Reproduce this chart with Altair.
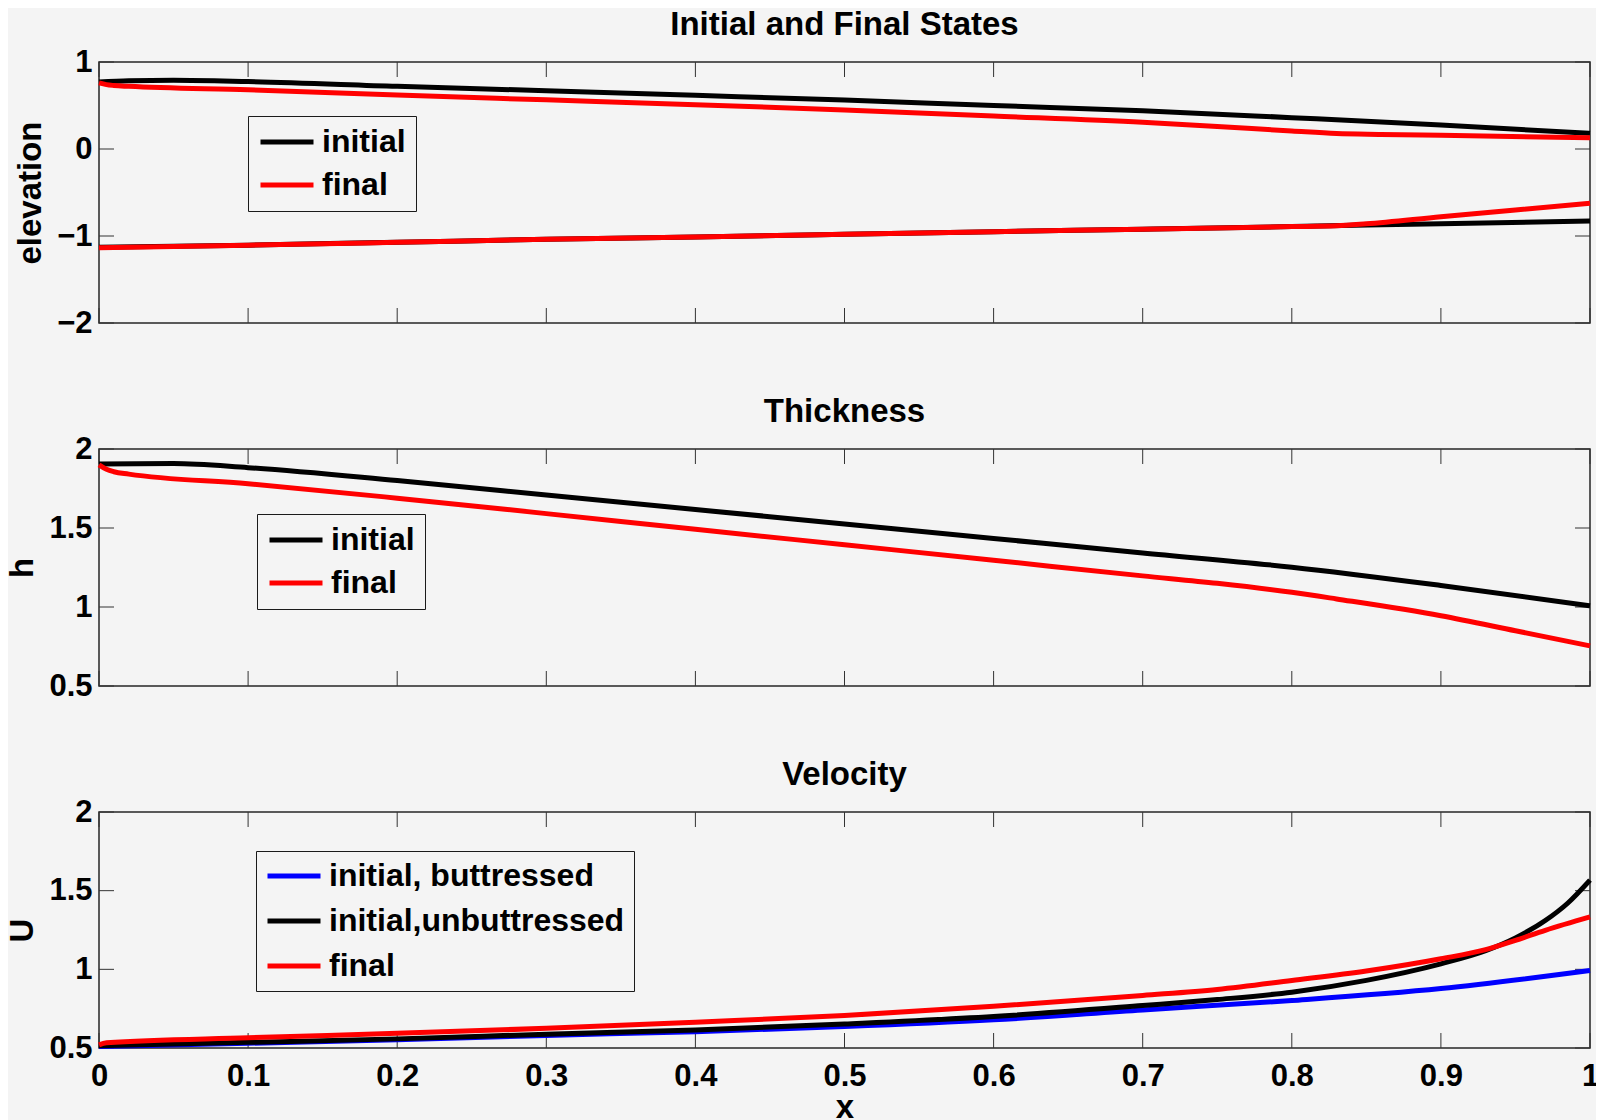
import altair as alt
import pandas as pd

FONT = "Liberation Sans"
BG = "#f4f4f4"

# ---------------- data ----------------
# Panel 1: elevation (surface and base, initial and final)
surf_init_x = [0.0, 0.02, 0.05, 0.1, 0.2, 0.3, 0.4, 0.5, 0.6, 0.7, 0.8, 0.9, 1.0]
surf_init_y = [0.77, 0.785, 0.79, 0.775, 0.72, 0.67, 0.617, 0.563, 0.50, 0.44, 0.36, 0.276, 0.18]
surf_final_x = [0.0, 0.005, 0.01, 0.02, 0.1, 0.2, 0.3, 0.4, 0.5, 0.6, 0.7, 0.75, 0.8, 0.83, 0.86, 0.9, 1.0]
surf_final_y = [0.76, 0.74, 0.73, 0.72, 0.68, 0.62, 0.565, 0.51, 0.448, 0.379, 0.307, 0.258, 0.207, 0.178, 0.168, 0.157, 0.13]
base_init_x = [0.0, 0.1, 0.2, 0.3, 0.4, 0.5, 0.6, 0.7, 0.8, 0.9, 1.0]
base_init_y = [-1.13, -1.105, -1.072, -1.038, -1.011, -0.981, -0.95, -0.922, -0.892, -0.858, -0.828]
base_final_x = [0.0, 0.1, 0.2, 0.3, 0.4, 0.5, 0.6, 0.7, 0.8, 0.83, 0.85, 0.9, 0.95, 1.0]
base_final_y = [-1.134, -1.105, -1.072, -1.038, -1.011, -0.981, -0.95, -0.922, -0.892, -0.883, -0.86, -0.778, -0.701, -0.624]

# Panel 2: thickness
h_init_x = [0.0, 0.05, 0.1, 0.2, 0.3, 0.4, 0.5, 0.6, 0.7, 0.8, 0.9, 1.0]
h_init_y = [1.905, 1.908, 1.882, 1.80, 1.709, 1.617, 1.526, 1.434, 1.342, 1.252, 1.136, 1.008]
h_final_x = [0.0, 0.005, 0.01, 0.02, 0.1, 0.2, 0.3, 0.4, 0.5, 0.6, 0.7, 0.75, 0.8, 0.83, 0.9, 0.95, 1.0]
h_final_y = [1.9, 1.872, 1.856, 1.841, 1.78, 1.689, 1.591, 1.492, 1.394, 1.296, 1.197, 1.15, 1.093, 1.051, 0.945, 0.85, 0.754]

# Panel 3: velocity
u_butt_x = [0.0, 0.1, 0.2, 0.3, 0.4, 0.5, 0.6, 0.7, 0.8, 0.9, 1.0]
u_butt_y = [0.51, 0.53, 0.553, 0.58, 0.604, 0.636, 0.679, 0.742, 0.802, 0.878, 0.993]
u_unb_x = [0.0, 0.1, 0.2, 0.3, 0.4, 0.5, 0.6, 0.7, 0.75, 0.8, 0.85, 0.9, 0.93, 0.95, 0.97, 0.985, 1.0]
u_unb_y = [0.515, 0.536, 0.558, 0.588, 0.615, 0.653, 0.70, 0.77, 0.808, 0.855, 0.93, 1.035, 1.118, 1.20, 1.31, 1.42, 1.567]
u_final_x = [0.0, 0.005, 0.1, 0.2, 0.3, 0.4, 0.5, 0.6, 0.7, 0.75, 0.8, 0.85, 0.9, 0.93, 0.95, 0.97, 1.0]
u_final_y = [0.52, 0.533, 0.565, 0.593, 0.625, 0.664, 0.706, 0.765, 0.834, 0.872, 0.929, 0.989, 1.067, 1.125, 1.184, 1.248, 1.333]

x_ticks = [0, 0.1, 0.2, 0.3, 0.4, 0.5, 0.6, 0.7, 0.8, 0.9, 1]
elev_ticks = [-2, -1, 0, 1]
h_ticks = [0.5, 1, 1.5, 2]
u_ticks = [0.5, 1, 1.5, 2]

W = 1491
TICK = 15


def frame(xs, ys, series, part):
    return pd.DataFrame({"x": xs, "v": ys, "series": series, "part": part})


def panel(layers_data, names, colors, y_domain, y_ticks, height, title, ytitle,
          legend_xy, legend_pad, legend_row, show_x):
    xscale = alt.Scale(domain=[0, 1], nice=False, zero=False)
    yscale = alt.Scale(domain=y_domain, nice=False, zero=False)
    if show_x:
        xaxis = alt.Axis(values=x_ticks, format="~g", labelFlush=False, labelPadding=13,
                         title="x", titlePadding=0)
    else:
        xaxis = None
    yaxis = alt.Axis(values=y_ticks, format="~g", labelPadding=7, title=ytitle, titlePadding=9)
    legend = alt.Legend(
        title=None, orient="none", legendX=legend_xy[0], legendY=legend_xy[1],
        direction="vertical", symbolType="stroke", symbolSize=53 * 53,
        symbolStrokeWidth=5, clipHeight=32, rowPadding=legend_row, padding=legend_pad,
        labelOffset=6, labelFontSize=32, labelFont=FONT, labelFontWeight="bold",
        labelColor="black", labelLimit=500, strokeColor="#1a1a1a", fillColor=BG,
        cornerRadius=0, symbolOpacity=1,
    )
    color = alt.Color("series:N", scale=alt.Scale(domain=names, range=colors),
                      legend=legend, sort=names)

    xt = pd.DataFrame({"t": x_ticks})
    yt = pd.DataFrame({"t": y_ticks})
    tick_style = dict(color="#333333", strokeWidth=1)
    layers = [
        alt.Chart(xt).mark_rule(**tick_style).encode(
            x=alt.X("t:Q", scale=xscale, axis=xaxis), y=alt.value(0), y2=alt.value(TICK)),
        alt.Chart(xt).mark_rule(**tick_style).encode(
            x=alt.X("t:Q", scale=xscale, axis=xaxis), y=alt.value(height - TICK), y2=alt.value(height)),
        alt.Chart(yt).mark_rule(**tick_style).encode(
            y=alt.Y("t:Q", scale=yscale, axis=yaxis), x=alt.value(0), x2=alt.value(TICK)),
        alt.Chart(yt).mark_rule(**tick_style).encode(
            y=alt.Y("t:Q", scale=yscale, axis=yaxis), x=alt.value(W - TICK), x2=alt.value(W)),
    ]
    for df in layers_data:
        layers.append(
            alt.Chart(df).mark_line(strokeWidth=5, interpolate="monotone").encode(
                x=alt.X("x:Q", scale=xscale, axis=xaxis),
                y=alt.Y("v:Q", scale=yscale, axis=yaxis),
                color=color,
                detail="part:N",
            )
        )
    return alt.layer(*layers).properties(
        width=W, height=height,
        title=alt.TitleParams(text=title, fontSize=33, font=FONT, fontWeight="bold",
                              color="black", anchor="middle", baseline="alphabetic", offset=-22.4),
    )


p1 = panel(
    [frame(surf_init_x, surf_init_y, "initial", "surface"),
     frame(base_init_x, base_init_y, "initial", "base"),
     frame(surf_final_x, surf_final_y, "final", "surface"),
     frame(base_final_x, base_final_y, "final", "base")],
    ["initial", "final"], ["#000000", "#ff0000"], [-2, 1], elev_ticks, 261,
    "Initial and Final States", "elevation", (149, 54), 10, 11, False)

p2 = panel(
    [frame(h_init_x, h_init_y, "initial", "h"),
     frame(h_final_x, h_final_y, "final", "h")],
    ["initial", "final"], ["#000000", "#ff0000"], [0.5, 2], h_ticks, 237,
    "Thickness", "h", (158, 65), 10, 11, False)

p3 = panel(
    [frame(u_butt_x, u_butt_y, "initial, buttressed", "u"),
     frame(u_unb_x, u_unb_y, "initial,unbuttressed", "u"),
     frame(u_final_x, u_final_y, "final", "u")],
    ["initial, buttressed", "initial,unbuttressed", "final"],
    ["#0000ff", "#000000", "#ff0000"], [0.5, 2], u_ticks, 236,
    "Velocity", "U", (157, 39), 9, 13, True)

chart = alt.vconcat(p1, p2, p3, spacing=126, bounds="flush").resolve_scale(
    x="independent", y="independent", color="independent"
).resolve_legend(color="independent").properties(
    background=BG, padding={"left": -2, "top": 0, "right": -5, "bottom": 0}
).configure_view(
    stroke="#262626", strokeWidth=1.5
).configure_axis(
    grid=False, ticks=False, domain=False,
    labelFont=FONT, labelFontWeight="bold", labelFontSize=31, labelColor="black",
    titleFont=FONT, titleFontWeight="bold", titleFontSize=33, titleColor="black",
)

chart.save("out.html", embed_options={"renderer": "svg", "actions": False})
